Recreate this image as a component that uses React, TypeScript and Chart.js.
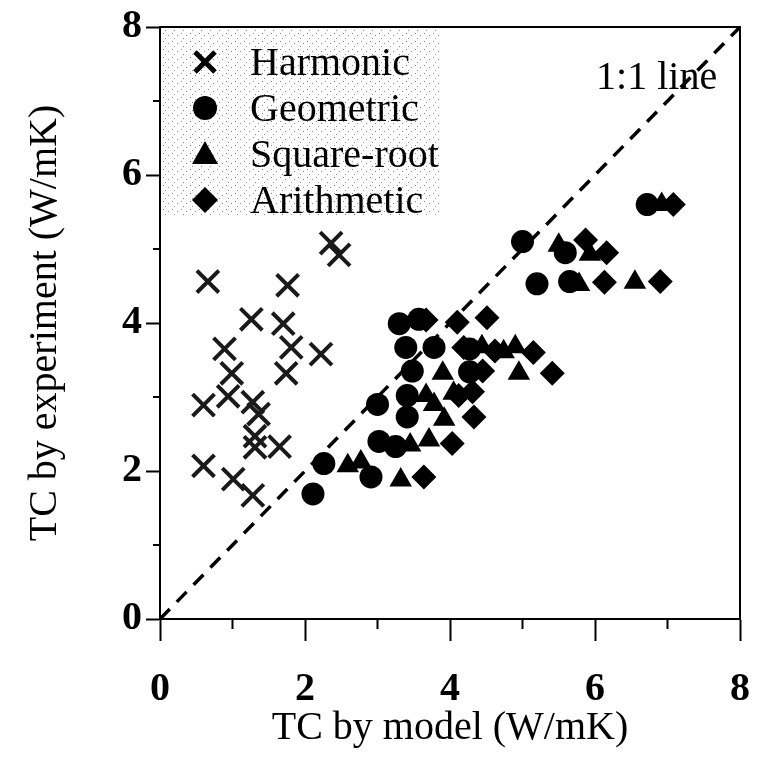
import React, { useEffect, useRef } from 'react';
import { Chart, registerables } from 'chart.js';

Chart.register(...registerables);

// ---- Data ----
const seriesNames = ['Harmonic', 'Geometric', 'Square-root', 'Arithmetic'];

const harmonicX = [2.36, 2.47, 0.66, 1.76, 1.26, 1.70, 0.89, 1.81, 2.22, 0.99, 1.74, 0.94, 0.60, 1.28, 1.36, 1.31, 1.31, 1.65, 0.60, 1.01, 1.28];
const harmonicY = [5.08, 4.92, 4.56, 4.51, 4.05, 3.99, 3.65, 3.67, 3.58, 3.32, 3.32, 3.01, 2.89, 2.93, 2.77, 2.47, 2.32, 2.33, 2.07, 1.89, 1.67];

const geometricX = [2.11, 2.26, 2.91, 3.02, 3.25, 3.00, 3.41, 3.41, 3.30, 3.57, 3.39, 3.78, 3.48, 4.27, 4.27, 5.00, 5.59, 5.20, 5.65, 6.72];
const geometricY = [1.69, 2.10, 1.92, 2.40, 2.33, 2.90, 2.73, 3.02, 3.99, 4.05, 3.67, 3.67, 3.35, 3.34, 3.65, 5.10, 4.95, 4.53, 4.56, 5.60];

const squareRootX = [2.59, 2.77, 3.32, 3.45, 3.71, 3.67, 3.78, 3.92, 3.90, 4.05, 4.44, 4.74, 4.90, 4.95, 5.50, 5.93, 5.78, 6.55, 6.92];
const squareRootY = [2.07, 2.12, 1.88, 2.35, 2.42, 3.02, 2.90, 2.70, 3.32, 3.05, 3.68, 3.61, 3.68, 3.32, 5.05, 4.93, 4.52, 4.55, 5.60];

const arithmeticX = [3.64, 4.03, 4.33, 4.12, 4.31, 4.19, 4.10, 3.67, 4.51, 4.62, 5.15, 5.41, 5.87, 6.16, 6.13, 6.90, 7.08, 4.45];
const arithmeticY = [1.92, 2.37, 2.73, 3.02, 3.07, 3.67, 4.01, 4.04, 4.07, 3.62, 3.60, 3.32, 5.12, 4.95, 4.55, 4.56, 5.60, 3.35];

const oneToOneX = [0, 8];
const oneToOneY = [0, 8];

const axisMin = 0;
const axisMax = 8;
const majorStep = 2;
const minorTicks = [1, 3, 5, 7];

const xTitle = 'TC by model (W/mK)';
const yTitle = 'TC by experiment (W/mK)';
const lineLabel = '1:1 line';

const pts = (xs: number[], ys: number[]) => xs.map((x, i) => ({ x, y: ys[i] }));

const SERIF = '"Liberation Serif", "Times New Roman", serif';

function makePattern(ctx: CanvasRenderingContext2D) {
  const pc = document.createElement('canvas');
  pc.width = 9;
  pc.height = 8;
  const p = pc.getContext('2d')!;
  p.fillStyle = '#ffffff';
  p.fillRect(0, 0, 9, 8);
  p.fillStyle = '#8a8a8a';
  p.fillRect(1, 1, 1, 1);
  p.fillRect(6, 3, 1, 1);
  p.fillRect(3, 6, 1, 1);
  return ctx.createPattern(pc, 'repeat');
}

function drawGlyph(ctx: CanvasRenderingContext2D, kind: number, cx: number, cy: number) {
  ctx.save();
  ctx.fillStyle = '#000';
  ctx.strokeStyle = '#000';
  if (kind === 0) {
    ctx.lineWidth = 5;
    ctx.beginPath();
    ctx.moveTo(cx - 10, cy - 10);
    ctx.lineTo(cx + 10, cy + 10);
    ctx.moveTo(cx + 10, cy - 10);
    ctx.lineTo(cx - 10, cy + 10);
    ctx.stroke();
  } else if (kind === 1) {
    ctx.beginPath();
    ctx.arc(cx, cy, 12, 0, Math.PI * 2);
    ctx.fill();
  } else if (kind === 2) {
    ctx.beginPath();
    ctx.moveTo(cx, cy - 13);
    ctx.lineTo(cx + 13, cy + 10);
    ctx.lineTo(cx - 13, cy + 10);
    ctx.closePath();
    ctx.fill();
  } else {
    ctx.beginPath();
    ctx.moveTo(cx, cy - 13);
    ctx.lineTo(cx + 13, cy);
    ctx.lineTo(cx, cy + 13);
    ctx.lineTo(cx - 13, cy);
    ctx.closePath();
    ctx.fill();
  }
  ctx.restore();
}

const decorPlugin = {
  id: 'decor',
  beforeDatasetsDraw(chart: any) {
    const { ctx, chartArea } = chart;
    ctx.save();
    const pat = makePattern(ctx);
    if (pat) ctx.fillStyle = pat;
    ctx.fillRect(chartArea.left + 3, chartArea.top + 3, 277, 185);
    ctx.restore();
  },
  afterDraw(chart: any) {
    const { ctx, chartArea, scales } = chart;
    const xs = scales.x;
    const ys = scales.y;
    ctx.save();
    ctx.strokeStyle = '#000';
    ctx.lineWidth = 2;
    ctx.strokeRect(chartArea.left, chartArea.top, chartArea.right - chartArea.left, chartArea.bottom - chartArea.top);
    ctx.beginPath();
    for (const v of minorTicks) {
      const px = xs.getPixelForValue(v);
      ctx.moveTo(px, chartArea.bottom);
      ctx.lineTo(px, chartArea.bottom + 10);
      const py = ys.getPixelForValue(v);
      ctx.moveTo(chartArea.left, py);
      ctx.lineTo(chartArea.left - 7, py);
    }
    ctx.stroke();
    ctx.fillStyle = '#000';
    ctx.font = `40px ${SERIF}`;
    ctx.textAlign = 'center';
    ctx.textBaseline = 'middle';
    ctx.fillText(lineLabel, xs.getPixelForValue(6.85), ys.getPixelForValue(7.3));
    const lx = chartArea.left + 45;
    const tx = chartArea.left + 90;
    const rowY = [62, 108, 154, 200];
    ctx.textAlign = 'left';
    ctx.textBaseline = 'alphabetic';
    seriesNames.forEach((name, i) => {
      const cy = rowY[i];
      drawGlyph(ctx, i, lx, cy);
      ctx.fillText(name, tx, cy + 13);
    });
    ctx.restore();
  },
};

export default function App() {
  const canvasRef = useRef<HTMLCanvasElement | null>(null);

  useEffect(() => {
    const canvas = canvasRef.current;
    if (!canvas) return;
    const tickFont = { family: SERIF, size: 40, weight: 'bold' as const };
    const titleFont = { family: SERIF, size: 40, weight: 'normal' as const };
    const chart = new Chart(canvas, {
      type: 'scatter',
      data: {
        datasets: [
          {
            label: seriesNames[0],
            data: pts(harmonicX, harmonicY),
            pointStyle: 'crossRot',
            pointRadius: 15.5,
            borderColor: '#1a1a1a',
            backgroundColor: '#1a1a1a',
            pointBorderWidth: 4,
            order: 1,
          },
          {
            label: seriesNames[1],
            data: pts(geometricX, geometricY),
            pointStyle: 'circle',
            pointRadius: 11.5,
            borderColor: '#000',
            backgroundColor: '#000',
            pointBorderWidth: 0,
            order: 1,
          },
          {
            label: seriesNames[2],
            data: pts(squareRootX, squareRootY),
            pointStyle: 'triangle',
            pointRadius: 13,
            borderColor: '#000',
            backgroundColor: '#000',
            pointBorderWidth: 0,
            order: 1,
          },
          {
            label: seriesNames[3],
            data: pts(arithmeticX, arithmeticY),
            pointStyle: 'rectRot',
            pointRadius: 12.5,
            borderColor: '#000',
            backgroundColor: '#000',
            pointBorderWidth: 0,
            order: 1,
          },
          {
            type: 'line',
            label: lineLabel,
            data: pts(oneToOneX, oneToOneY),
            borderColor: '#000',
            borderWidth: 3.5,
            borderDash: [14, 10],
            pointRadius: 0,
            showLine: true,
            fill: false,
            order: 10,
          } as any,
        ],
      },
      options: {
        responsive: false,
        animation: false,
        events: [],
        layout: { padding: { top: 27, right: 20, left: 0, bottom: 0 } },
        plugins: { legend: { display: false }, tooltip: { enabled: false } },
        scales: {
          x: {
            type: 'linear',
            min: axisMin,
            max: axisMax,
            ticks: { stepSize: majorStep, font: tickFont, color: '#000', padding: 25, maxRotation: 0 },
            grid: { display: true, drawOnChartArea: false, drawTicks: true, tickLength: 22, tickWidth: 2, tickColor: '#000' },
            border: { display: true, color: '#000', width: 2 },
            title: { display: true, text: xTitle, font: titleFont, color: '#000', padding: { top: 0, bottom: 5 } },
            afterFit: (s: any) => {
              s.height = 138;
              s.paddingLeft = 0;
              s.paddingRight = 0;
            },
          },
          y: {
            type: 'linear',
            min: axisMin,
            max: axisMax,
            ticks: { stepSize: majorStep, font: tickFont, color: '#000', padding: 4 },
            grid: { display: true, drawOnChartArea: false, drawTicks: true, tickLength: 14, tickWidth: 2, tickColor: '#000' },
            border: { display: true, color: '#000', width: 2 },
            title: { display: true, text: yTitle, font: titleFont, color: '#000', padding: { top: 21, bottom: 0 } },
            afterFit: (s: any) => {
              s.width = 160;
              s.paddingTop = 0;
              s.paddingBottom = 0;
            },
          },
        },
      } as any,
      plugins: [decorPlugin],
    });
    return () => chart.destroy();
  }, []);

  return (
    <div style={{ position: 'fixed', left: 0, top: 0, width: 760, height: 757, background: '#fff' }}>
      <canvas ref={canvasRef} width={760} height={757} style={{ width: 760, height: 757, display: 'block' }} />
    </div>
  );
}
